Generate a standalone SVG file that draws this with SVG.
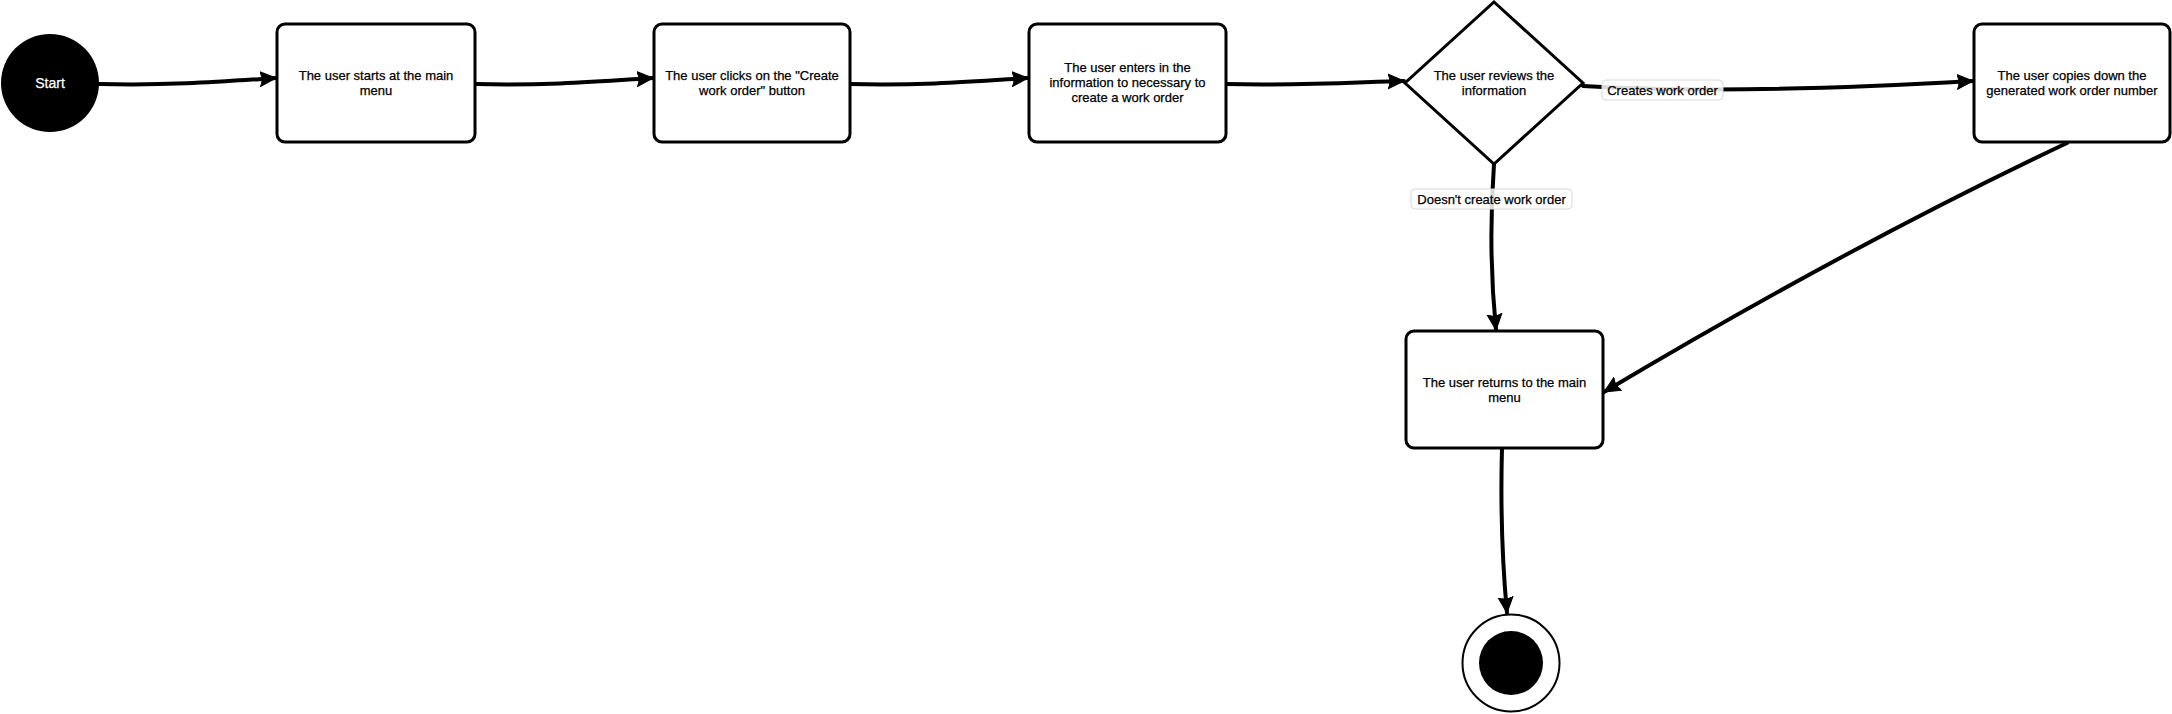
<svg xmlns="http://www.w3.org/2000/svg" width="2172" height="714" viewBox="0 0 2172 714">
<style>
.box{fill:#fff;stroke:#000;stroke-width:3}
.t{font-family:"Liberation Sans",Arial,sans-serif;font-size:13px;fill:#000;text-anchor:middle;dominant-baseline:central;stroke:#000;stroke-width:0.25}
.conn{fill:none;stroke:#000;stroke-width:4;stroke-linecap:round;marker-end:url(#arr)}
.lbl{fill:#fff;fill-opacity:0.85;stroke:#d9d9d9;stroke-width:1}
</style>
<defs>
<marker id="arr" markerUnits="userSpaceOnUse" markerWidth="17" markerHeight="17" viewBox="0 0 17 17" refX="16" refY="8.5" orient="auto">
<path d="M0,1 L16,8.5 L0,16 Q4,8.5 0,1 Z" fill="#000" stroke="#000" stroke-width="1" stroke-linejoin="round"/>
</marker>
</defs>
<rect width="2172" height="714" fill="#fff"/>
<g id="connectors">
<path class="conn" d="M99,84 C170,86 230,81 276,78"/>
<path class="conn" d="M475,84 C545,86 605,81 653,78"/>
<path class="conn" d="M850,84 C920,86 980,81 1028,78"/>
<path class="conn" d="M1226,84 C1300,86 1360,82 1404,81"/>
<path class="conn" d="M1583,86 C1700,93 1850,88 1973,81"/>
<path class="conn" d="M1494,164 C1490,220 1491,280 1496,330"/>
<path class="conn" d="M2067,143 C1900,222 1750,305 1604,392"/>
<path class="conn" d="M1502,448 C1500,520 1503,570 1507,613"/>
<g id="label-creates">
<rect class="lbl" x="1602" y="80" width="121" height="20" rx="4"/>
<text class="t" x="1662.5" y="90">Creates work order</text>
</g>
<g id="label-doesnt">
<rect class="lbl" x="1411" y="189" width="161" height="20" rx="4"/>
<text class="t" x="1491.5" y="199">Doesn't create work order</text>
</g>
</g>
<g id="start">
<circle cx="50" cy="83" r="49" fill="#000"/>
<text class="t" x="50" y="83" style="fill:#fff;stroke:#fff;font-size:14px">Start</text>
</g>
<g id="n1">
<rect class="box" x="277" y="24" width="198" height="118" rx="8"/>
<text class="t" x="376" y="75">The user starts at the main</text>
<text class="t" x="376" y="90">menu</text>
</g>
<g id="n2">
<rect class="box" x="654" y="24" width="196" height="118" rx="8"/>
<text class="t" x="752" y="75">The user clicks on the "Create</text>
<text class="t" x="752" y="90">work order" button</text>
</g>
<g id="n3">
<rect class="box" x="1029" y="24" width="197" height="118" rx="8"/>
<text class="t" x="1127.5" y="67.5">The user enters in the</text>
<text class="t" x="1127.5" y="82.5">information to necessary to</text>
<text class="t" x="1127.5" y="97.5">create a work order</text>
</g>
<g id="decision">
<polygon class="box" points="1494,2 1583,83 1494,164 1405,83"/>
<text class="t" x="1494" y="75">The user reviews the</text>
<text class="t" x="1494" y="90">information</text>
</g>
<g id="n5">
<rect class="box" x="1974" y="24" width="196" height="118" rx="8"/>
<text class="t" x="2072" y="75">The user copies down the</text>
<text class="t" x="2072" y="90">generated work order number</text>
</g>
<g id="n6">
<rect class="box" x="1406" y="331" width="197" height="117" rx="8"/>
<text class="t" x="1504.5" y="382">The user returns to the main</text>
<text class="t" x="1504.5" y="397">menu</text>
</g>
<g id="end">
<circle cx="1511" cy="663" r="48.5" fill="#fff" stroke="#000" stroke-width="2"/>
<circle cx="1511" cy="663" r="32" fill="#000"/>
</g>
</svg>
